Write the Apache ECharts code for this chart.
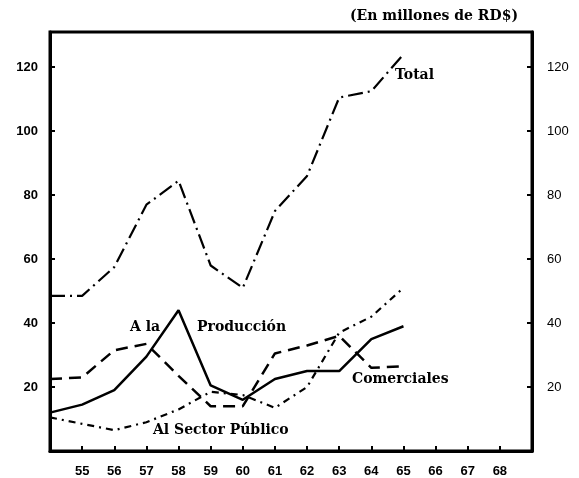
<!DOCTYPE html>
<html>
<head>
    <meta charset="utf-8">
    <title>Préstamos</title>
    <script src="https://cdn.jsdelivr.net/npm/echarts@6/dist/echarts.min.js"></script>
</head>
<body style="margin:0;background:#fff">
    <div id="main" style="width:579px;height:478px;"></div>
    <script type="text/javascript">
        // datos (millones de RD$)
        var years = [54, 55, 56, 57, 58, 59, 60, 61, 62, 63, 64, 65];
        var total = [48.5, 48.5, 57.5, 77, 84.5, 58, 51, 75, 86, 110.5, 112.5, 124];
        var produccion = [12, 14.5, 19, 29.5, 44, 20.5, 16, 22.5, 25, 25, 35, 39];
        var comerciales = [22.5, 23, 31.5, 33.5, 23.5, 14, 14, 30.5, 33, 36, 26, 26.5];
        var sectorPublico = [10.5, 8.5, 6.5, 9, 13, 18.5, 17.5, 13.5, 20, 37, 42, 51];
        var xTicks = [55, 56, 57, 58, 59, 60, 61, 62, 63, 64, 65, 66, 67, 68];
        var yTicks = [20, 40, 60, 80, 100, 120];

        function pairs(vals) {
            return years.map(function (y, i) { return [y, vals[i]]; });
        }

        var myChart = echarts.init(document.getElementById('main'));

        function lineSeries(name, vals, dash, width) {
            return {
                name: name,
                type: 'line',
                data: pairs(vals),
                symbol: 'none',
                lineStyle: { color: '#000', width: width, type: dash }
            };
        }

        function yAxisDef(pos, bold, margin) {
            return {
                type: 'value',
                position: pos,
                min: 0,
                max: 131,
                splitLine: { show: false },
                axisLine: { show: true, lineStyle: { color: '#000', width: 3 } },
                axisTick: {
                    customValues: yTicks,
                    inside: true,
                    length: 5,
                    lineStyle: { color: '#000', width: 2 }
                },
                axisLabel: {
                    customValues: yTicks,
                    margin: margin,
                    color: '#000',
                    fontFamily: 'Liberation Sans',
                    fontWeight: bold ? 'bold' : 'normal',
                    fontSize: 13
                }
            };
        }

        var serifBold = { fontFamily: 'DejaVu Serif', fontWeight: 'bold', fill: '#000' };
        function label(text, x, y, size) {
            return {
                type: 'text',
                left: x,
                top: y,
                style: Object.assign({ text: text, fontSize: size }, serifBold)
            };
        }

        var option = {
            animation: false,
            backgroundColor: '#fff',
            grid: {
                left: 50, right: 47, top: 32, bottom: 26,
                show: true, borderColor: '#000', borderWidth: 3
            },
            xAxis: {
                type: 'value',
                min: 54,
                max: 69,
                splitLine: { show: false },
                axisLine: { show: true, onZero: false, lineStyle: { color: '#000', width: 3 } },
                axisTick: {
                    customValues: xTicks,
                    inside: true,
                    length: 5,
                    lineStyle: { color: '#000', width: 2 }
                },
                axisLabel: {
                    customValues: xTicks,
                    margin: 14,
                    color: '#000',
                    fontFamily: 'Liberation Sans',
                    fontWeight: 'bold',
                    fontSize: 13
                }
            },
            yAxis: [yAxisDef('left', true, 12), yAxisDef('right', false, 15)],
            series: [
                lineSeries('Total', total, [15, 5, 2, 5], 2.2),
                lineSeries('A la Producción', produccion, 'solid', 2.5),
                lineSeries('Comerciales', comerciales, [12, 7], 2.5),
                lineSeries('Al Sector Público', sectorPublico, [7, 5, 2, 5], 2.2)
            ],
            graphic: [
                label('(En millones de RD$)', 350, 9, 14),
                label('Total', 395, 68, 14),
                label('A la', 130, 320, 14),
                label('Producción', 197, 320, 14),
                label('Comerciales', 352, 372, 14),
                label('Al Sector Público', 153, 423, 14)
            ]
        };
        myChart.setOption(option);
    </script>
</body>
</html>
